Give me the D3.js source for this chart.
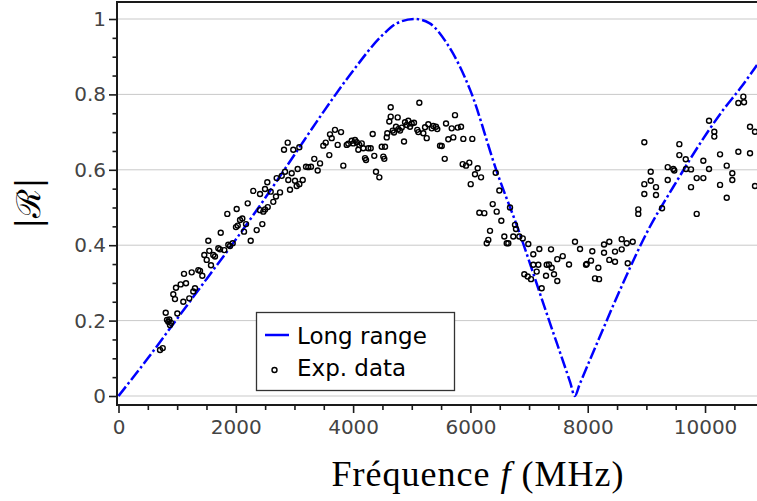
<!DOCTYPE html>
<html><head><meta charset="utf-8">
<script src="https://cdn.jsdelivr.net/npm/d3@7"></script>
<style>body{margin:0;background:#fff}svg{display:block}</style>
</head><body>
<svg id="c" width="757" height="501"></svg>
<script>
// ---- data ----
const curveF = [0, 500, 1000, 1500, 2000, 2500, 3000, 3500, 4000, 4500, 4750, 5050, 5300, 5600, 6000, 6450, 6820, 7300, 7700, 7780, 7860, 8200, 8550, 9060, 9460, 10030, 10310, 10600, 10886];
const curveR = [0, 0.10, 0.205, 0.31, 0.415, 0.525, 0.64, 0.755, 0.863, 0.957, 0.989, 1.0, 0.989, 0.935, 0.81, 0.595, 0.44, 0.219, 0.037, 0, 0.03, 0.155, 0.281, 0.449, 0.555, 0.697, 0.759, 0.816, 0.878];

const expF = [708,754,805,827,849,878,895,866,1003,934,963,980,1060,1117,1105,1151,1207,1248,1275,1304,1361,1390,1429,1463,1504,1531,1548,1577,1616,1645,1702,1731,1743,1804,1855,1872,1901,1947,2015,2003,2032,2072,2111,2140,2174,2203,2254,2356,2452,2413,2469,2498,2544,2639,2298,2413,2498,2537,2595,2685,2697,2754,2783,2822,2839,2885,2895,2924,2953,2980,3009,3038,3083,3055,3083,3141,3197,3236,3282,3338,3396,3436,3492,3533,3594,3606,3635,3691,3737,3794,3833,3891,3918,3976,4003,4032,4061,4089,4106,4147,4174,4203,4220,4259,4300,4334,4361,4390,4447,4488,4515,4532,4544,4573,4583,4617,4641,4641,4675,4697,4731,4760,4771,4800,4829,4868,4885,4914,4941,4970,4999,5038,5094,5129,5112,5197,5226,5255,5282,5340,5367,5413,5435,5482,5511,5562,5584,5623,5681,5708,5737,5783,5840,5868,5879,5925,5981,6005,6032,6078,6124,6181,6152,6237,6334,6380,6448,6431,6493,6527,6578,6675,6760,6777,6731,6834,6892,6305,6278,6619,6646,6987,7072,7175,7072,7158,7130,6919,6977,7033,7215,7289,7301,7340,7386,7374,7425,7481,7481,7574,7681,7783,7869,7971,7983,8056,8078,8181,8124,8193,8278,8368,8278,8368,8465,8465,8579,8579,8665,8682,8767,8862,8862,8965,8965,9074,9164,9164,9267,8965,9074,9364,9364,9459,9476,9562,9562,9671,9676,9761,9761,9858,9971,9858,9971,10068,10068,10158,10158,10256,10256,10370,10370,10465,10465,10568,10568,10653,10665,10767,10852,10767,10852];
const expR = [0.122,0.127,0.221,0.202,0.197,0.188,0.194,0.203,0.219,0.270,0.257,0.287,0.296,0.324,0.250,0.299,0.259,0.328,0.277,0.286,0.334,0.332,0.319,0.374,0.361,0.412,0.385,0.347,0.374,0.370,0.392,0.389,0.433,0.387,0.483,0.401,0.398,0.405,0.496,0.448,0.452,0.467,0.471,0.436,0.456,0.511,0.412,0.440,0.456,0.493,0.489,0.495,0.501,0.515,0.544,0.536,0.549,0.567,0.542,0.529,0.578,0.540,0.584,0.653,0.595,0.672,0.573,0.547,0.591,0.653,0.571,0.557,0.562,0.602,0.660,0.573,0.608,0.607,0.608,0.629,0.598,0.617,0.664,0.672,0.639,0.694,0.684,0.706,0.666,0.700,0.611,0.666,0.669,0.677,0.670,0.679,0.673,0.653,0.666,0.670,0.657,0.631,0.626,0.657,0.657,0.695,0.637,0.595,0.580,0.661,0.635,0.629,0.661,0.686,0.697,0.728,0.766,0.741,0.704,0.699,0.714,0.739,0.708,0.704,0.712,0.675,0.726,0.719,0.730,0.714,0.723,0.725,0.706,0.778,0.700,0.697,0.713,0.684,0.721,0.710,0.716,0.714,0.708,0.664,0.663,0.629,0.723,0.681,0.710,0.686,0.745,0.712,0.714,0.615,0.682,0.611,0.619,0.562,0.682,0.588,0.604,0.580,0.486,0.485,0.438,0.509,0.489,0.592,0.545,0.465,0.423,0.500,0.454,0.443,0.423,0.423,0.418,0.414,0.405,0.405,0.405,0.403,0.376,0.390,0.348,0.348,0.330,0.323,0.317,0.310,0.286,0.319,0.348,0.349,0.340,0.389,0.323,0.363,0.305,0.371,0.349,0.409,0.390,0.348,0.350,0.359,0.384,0.340,0.312,0.310,0.402,0.409,0.380,0.361,0.356,0.383,0.416,0.389,0.405,0.352,0.409,0.495,0.483,0.562,0.536,0.571,0.554,0.533,0.498,0.673,0.595,0.607,0.573,0.602,0.598,0.668,0.639,0.628,0.602,0.601,0.554,0.578,0.578,0.483,0.624,0.602,0.730,0.701,0.688,0.641,0.560,0.611,0.526,0.591,0.573,0.648,0.777,0.794,0.779,0.714,0.701,0.644,0.557];

const xTicks = [0, 2000, 4000, 6000, 8000, 10000];
const yTicks = [0, 0.2, 0.4, 0.6, 0.8, 1];
const legendLabels = ["Long range", "Exp. data"];
const xTitle = ["Fréquence ", "f", " (MHz)"];
const yTitle = "|ℛ|";

// ---- layout ----
const W = 757, H = 501;
const L = 117, T = 2, B = 405, R = 757;
const x = d3.scaleLinear().domain([0, 10886]).range([118.5, 757]);
const y = d3.scaleLinear().domain([0, 1]).range([396, 19]);

const svg = d3.select("#c");
svg.append("rect").attr("width", W).attr("height", H).attr("fill", "#fff");

svg.append("defs").append("clipPath").attr("id", "clip")
  .append("rect").attr("x", L).attr("y", T).attr("width", R - L).attr("height", B - T);

// gridlines
svg.append("g").selectAll("line").data(yTicks).join("line")
  .attr("x1", L).attr("x2", R).attr("y1", d => y(d)).attr("y2", d => y(d))
  .attr("stroke", "#c9c9c9").attr("stroke-width", 1);

// curve
const curve = curveF.map((f, i) => [f, curveR[i]]);
const line = d3.line().x(d => x(d[0])).y(d => y(d[1])).curve(d3.curveMonotoneX);
const plot = svg.append("g").attr("clip-path", "url(#clip)");
plot.append("path").datum(curve).attr("d", line)
  .attr("fill", "none").attr("stroke", "#0000ff").attr("stroke-width", 2.5)
  .attr("stroke-dasharray", "12,3,2.5,3");

// scatter
const pts = expF.map((f, i) => [f, expR[i]]);
plot.append("g").selectAll("circle").data(pts).join("circle")
  .attr("cx", d => x(d[0])).attr("cy", d => y(d[1])).attr("r", 2.5)
  .attr("fill", "none").attr("stroke", "#000").attr("stroke-width", 1.4);

// frame
svg.append("line").attr("x1", L - 1).attr("x2", R).attr("y1", T).attr("y2", T).attr("stroke", "#1a1a1a").attr("stroke-width", 2);

// axes
const fontTick = "'DejaVu Sans', sans-serif";
const xMinor = d3.range(0, 10887, 500).filter(v => v % 2000 !== 0);
const yMinor = d3.range(0, 21).map(i => i * 0.05).filter(v => Math.abs(v * 5 - Math.round(v * 5)) > 1e-6);

const gx = svg.append("g").attr("transform", `translate(0,${B})`);
gx.call(d3.axisBottom(x).tickValues(xMinor).tickSize(5).tickSizeOuter(0).tickFormat(""));
gx.call(g => g.select(".domain").remove());
const gx2 = svg.append("g").attr("transform", `translate(0,${B})`);
gx2.call(d3.axisBottom(x).tickValues(xTicks).tickSize(8).tickPadding(7).tickSizeOuter(0).tickFormat(d3.format("d")));
gx2.select(".domain").remove();

const gy = svg.append("g").attr("transform", `translate(${L},0)`);
gy.call(d3.axisLeft(y).tickValues(yMinor).tickSize(4.5).tickSizeOuter(0).tickFormat(""));
gy.select(".domain").remove();
const gy2 = svg.append("g").attr("transform", `translate(${L},0)`);
gy2.call(d3.axisLeft(y).tickValues(yTicks).tickSize(8).tickPadding(3).tickSizeOuter(0).tickFormat(d => d === 0 || d === 1 ? d3.format("d")(d) : d3.format(".1f")(d)));
gy2.select(".domain").remove();

svg.selectAll(".tick line").attr("stroke", "#1a1a1a").attr("stroke-width", 1.6);
svg.selectAll(".tick text").attr("fill", "#444").style("font-family", fontTick).style("font-size", "20px");

// axis lines
svg.append("line").attr("x1", L).attr("x2", L).attr("y1", T - 1).attr("y2", B + 1).attr("stroke", "#1a1a1a").attr("stroke-width", 2);
svg.append("line").attr("x1", L - 1).attr("x2", R).attr("y1", B).attr("y2", B).attr("stroke", "#1a1a1a").attr("stroke-width", 2);

// legend
const lg = svg.append("g");
lg.append("rect").attr("x", 256.5).attr("y", 312.5).attr("width", 198).attr("height", 78)
  .attr("fill", "#fff").attr("stroke", "#333").attr("stroke-width", 1.3);
lg.append("line").attr("x1", 265).attr("x2", 289).attr("y1", 335).attr("y2", 335)
  .attr("stroke", "#0000ff").attr("stroke-width", 2.5);
lg.append("circle").attr("cx", 274.5).attr("cy", 370).attr("r", 2.5)
  .attr("fill", "none").attr("stroke", "#000").attr("stroke-width", 1.4);
lg.selectAll("text").data(legendLabels).join("text")
  .attr("x", 297).attr("y", (d, i) => 344 + i * 32)
  .style("font-family", fontTick).style("font-size", "23px").attr("fill", "#000")
  .text(d => d);

// x title
const xt = svg.append("text").attr("x", 477.5).attr("y", 486).attr("text-anchor", "middle")
  .attr("textLength", 292).attr("lengthAdjust", "spacing")
  .style("font-family", "'Liberation Serif', serif").style("font-size", "36px").attr("fill", "#000");
xt.selectAll("tspan").data(xTitle).join("tspan")
  .style("font-style", (d, i) => i === 1 ? "italic" : "normal").text(d => d);

// y title
svg.append("text").attr("transform", "translate(40,203) rotate(-90)").attr("text-anchor", "middle")
  .style("font-family", "'DejaVu Serif', serif").style("font-size", "33px").attr("fill", "#000")
  .text(yTitle);
</script>
</body></html>
